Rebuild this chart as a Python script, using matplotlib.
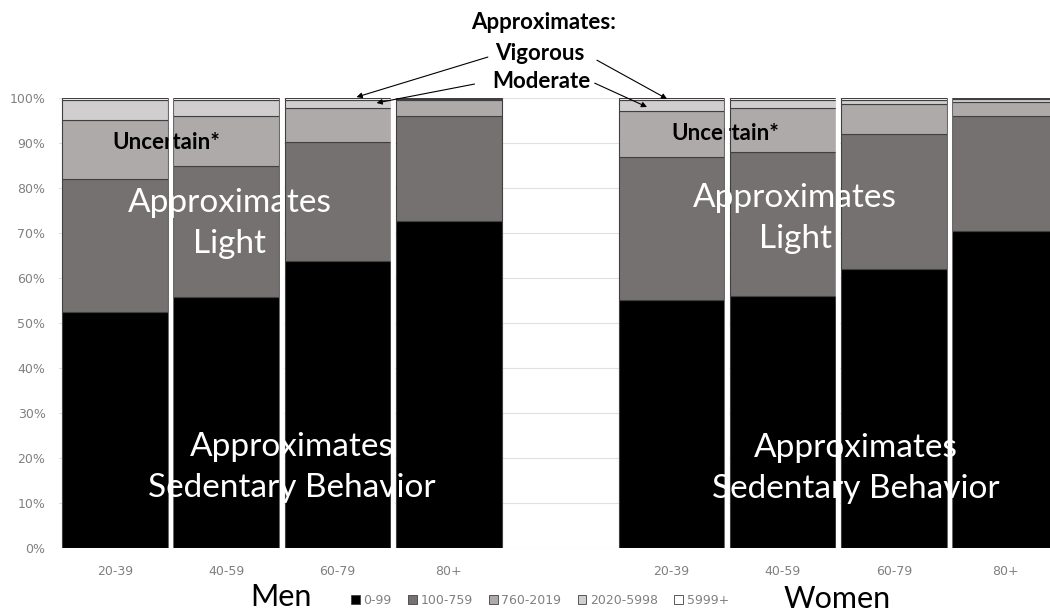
import numpy as np
import matplotlib
matplotlib.use("Agg")
import matplotlib.pyplot as plt
from matplotlib.patches import Patch

# age groups; the empty slot separates men from women
groups = ['20-39', '40-59', '60-79', '80+', '', '20-39', '40-59', '60-79', '80+']
bins = ['0-99', '100-759', '760-2019', '2020-5998', '5999+']
colors = ['#000000', '#757171', '#AEAAAA', '#D0CECE', '#FFFFFF']

# share of time in each count band (percent), men then women
men = {
    '0-99':      [52.5, 55.8, 63.8, 72.6],
    '100-759':   [29.5, 29.0, 26.5, 23.3],
    '760-2019':  [13.1, 11.3, 7.5, 3.6],
    '2020-5998': [4.5, 3.5, 1.7, 0.3],
    '5999+':     [0.4, 0.4, 0.5, 0.2],
}
women = {
    '0-99':      [55.1, 56.0, 62.0, 70.4],
    '100-759':   [31.7, 31.9, 30.0, 25.6],
    '760-2019':  [10.3, 9.9, 6.6, 3.2],
    '2020-5998': [2.4, 1.8, 1.0, 0.5],
    '5999+':     [0.5, 0.4, 0.4, 0.3],
}

tick_font = ['Liberation Sans Narrow', 'DejaVu Sans']
main_font = ['Lato', 'DejaVu Sans']

fig = plt.figure(figsize=(10.5, 6.15), dpi=100)
ax = fig.add_axes([59.35 / 1050, 67 / 615, 1001.7 / 1050, 450 / 615])

x = np.arange(len(groups))
men_x = x[:4]
women_x = x[5:]
bottom_m = np.zeros(4)
bottom_w = np.zeros(4)
for b, c in zip(bins, colors):
    vm = np.array(men[b]) / 100
    vw = np.array(women[b]) / 100
    ax.bar(men_x, vm, bottom=bottom_m, width=0.952, color=c,
           edgecolor='#404040', linewidth=0.8, zorder=3)
    ax.bar(women_x, vw, bottom=bottom_w, width=0.952, color=c,
           edgecolor='#404040', linewidth=0.8, zorder=3)
    bottom_m += vm
    bottom_w += vw

# white gaps between neighbouring bars sit on top of the labels
for xs in [0.5, 1.5, 2.5, 5.5, 6.5, 7.5]:
    ax.plot([xs, xs], [0, 1.0], color='white', linewidth=3.2, zorder=5,
            solid_capstyle='butt')

ax.set_xlim(-0.5, 8.5)
ax.set_ylim(0, 1.0)
ax.set_yticks(np.arange(0, 1.01, 0.1))
ax.set_yticklabels([f'{int(round(v * 100))}%' for v in np.arange(0, 1.01, 0.1)],
                   fontfamily=tick_font, fontsize=9, color='#808080')
ax.set_xticks(x)
ax.set_xticklabels(groups, fontfamily=tick_font, fontsize=9, color='#808080')
ax.tick_params(length=0, pad=12)
ax.tick_params(axis='y', pad=10)
ax.grid(axis='y', color='#E0E0E0', linewidth=0.8, zorder=0)
for s in ax.spines.values():
    s.set_visible(False)

# labels inside the bars
ax.text(0.46, 0.902, 'Uncertain*', ha='center', va='center', fontsize=16,
        fontweight='bold', fontfamily=main_font, zorder=4)
ax.text(5.48, 0.92, 'Uncertain*', ha='center', va='center', fontsize=16,
        fontweight='bold', fontfamily=main_font, zorder=4)
ax.text(1.03, 0.721, 'Approximates\nLight', ha='center', va='center', fontsize=24,
        color='white', fontfamily=main_font, linespacing=1.45, zorder=4)
ax.text(6.11, 0.732, 'Approximates\nLight', ha='center', va='center', fontsize=24,
        color='white', fontfamily=main_font, linespacing=1.45, zorder=4)
ax.text(1.59, 0.179, 'Approximates\nSedentary Behavior', ha='center', va='center',
        fontsize=24, color='white', fontfamily=main_font, linespacing=1.45, zorder=4)
ax.text(6.66, 0.177, 'Approximates\nSedentary Behavior', ha='center', va='center',
        fontsize=24, color='white', fontfamily=main_font, linespacing=1.45, zorder=4)

# callouts above the bars
ax.text(3.85, 1.167, 'Approximates:', ha='center', va='center', fontsize=16,
        fontweight='bold', fontfamily=main_font, clip_on=False)
ax.text(3.82, 1.10, 'Vigorous', ha='center', va='center', fontsize=16,
        fontweight='bold', fontfamily=main_font, clip_on=False)
ax.text(3.83, 1.036, 'Moderate', ha='center', va='center', fontsize=16,
        fontweight='bold', fontfamily=main_font, clip_on=False)
arrow = dict(arrowstyle='-|>', color='black', lw=0.8, mutation_scale=8,
             shrinkA=0, shrinkB=0)
ax.annotate('', xy=(2.17, 1.002), xytext=(3.35, 1.091), arrowprops=arrow,
            annotation_clip=False, zorder=6)
ax.annotate('', xy=(4.96, 0.998), xytext=(4.33, 1.084), arrowprops=arrow,
            annotation_clip=False, zorder=6)
ax.annotate('', xy=(2.35, 0.989), xytext=(3.23, 1.031), arrowprops=arrow,
            annotation_clip=False, zorder=6)
ax.annotate('', xy=(4.78, 0.98), xytext=(4.31, 1.033), arrowprops=arrow,
            annotation_clip=False, zorder=6)

# group names and legend along the bottom
fig.text(281 / 1050, 1 - 597 / 615, 'Men', ha='center', va='center', fontsize=22,
         fontfamily=main_font)
fig.text(837 / 1050, 1 - 599 / 615, 'Women', ha='center', va='center', fontsize=22,
         fontfamily=main_font)
handles = [Patch(facecolor=c, edgecolor='#404040', linewidth=0.6) for c in colors]
leg = fig.legend(handles, bins, loc='center', bbox_to_anchor=(540 / 1050, 1 - 600 / 615),
                 ncol=5, frameon=False, handlelength=0.7, handleheight=0.7,
                 handletextpad=0.3, columnspacing=1.3,
                 prop={'family': tick_font, 'size': 9})
for t in leg.get_texts():
    t.set_color('#808080')

fig.savefig('out.png', dpi=100, facecolor='white')
